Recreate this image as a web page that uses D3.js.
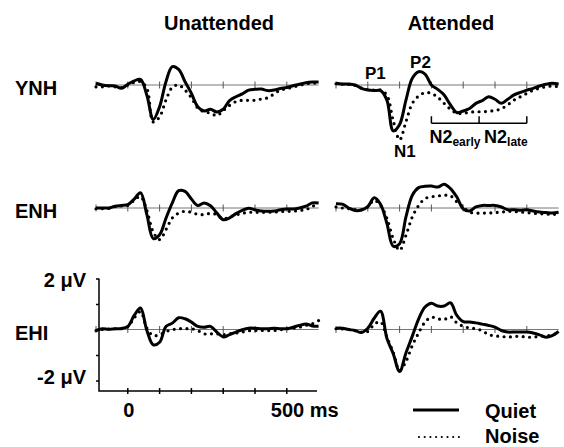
<!DOCTYPE html>
<html lang="en">
<head>
<meta charset="UTF-8">
<title>ERP waveforms</title>
<script src="https://d3js.org/d3.v7.min.js"></script>
<style>
    body {
        margin: 0;
        background: #fff;
    }
    svg text {
        font-family: "Liberation Sans", Arial, sans-serif;
        font-weight: bold;
        fill: #000;
    }
</style>
</head>
<body>
<div id="chart"></div>
<script>
    // time points (ms) of the averaged waveforms
    const times = [-100, -80, -60, -40, -20, 0, 20, 40, 60, 80, 100, 120, 140, 160, 180, 200, 220, 240,
        260, 280, 300, 320, 340, 360, 380, 400, 420, 440, 460, 480, 500, 520, 540, 560, 580, 600];

    // amplitudes in microvolts
    const ynhUnattQuiet = [0.07, 0, -0.03, -0.04, -0.13, 0.03, 0.16, 0.22, -0.4, -1.35, -0.85, 0.13, 0.72, 0.61, 0.13, -0.33, -0.85, -1.02,
        -0.95, -1.06, -0.95, -0.61, -0.46, -0.35, -0.2, -0.17, -0.16, -0.22, -0.2, -0.14, -0.1, -0.03, 0.03, 0.09, 0.12, 0.12];
    const ynhUnattNoise = [-0.07, -0.07, -0.04, -0.07, -0.1, 0, 0.1, 0.13, -0.13, -1.45, -1.25, -0.59, -0.09, 0, -0.2, -0.5, -0.9, -1.05,
        -1.1, -1.2, -1.0, -0.8, -0.65, -0.6, -0.6, -0.6, -0.55, -0.5, -0.35, -0.2, -0.15, -0.08, -0.02, 0.05, 0.07, 0.08];
    const ynhAttQuiet = [0.07, 0.04, 0.04, 0, -0.13, -0.2, -0.22, -0.22, -0.59, -1.8, -1.55, -0.59, 0.26, 0.52, 0.43, 0, -0.17, -0.39,
        -0.78, -1.08, -1.02, -0.92, -0.72, -0.61, -0.46, -0.56, -0.72, -0.56, -0.39, -0.29, -0.2, -0.13, -0.04, 0.03, 0.07, 0.04];
    const ynhAttNoise = [0.05, 0.03, 0.02, -0.02, -0.12, -0.18, -0.2, -0.2, -0.4, -1.4, -2.15, -1.44, -0.72, -0.43, -0.3, -0.33, -0.48, -0.72,
        -0.95, -1.11, -1.11, -1.07, -1.05, -1.05, -1.03, -1.0, -0.93, -0.78, -0.59, -0.46, -0.33, -0.2, -0.13, -0.07, -0.04, -0.07];
    const enhUnattQuiet = [0, 0, 0, 0.07, 0.1, 0.13, 0.35, 0.6, -0.26, -1.2, -1.05, -0.4, 0.2, 0.68, 0.65, 0.35, 0.1, 0.2,
        0.09, -0.2, -0.46, -0.39, -0.22, -0.09, -0.01, -0.07, -0.12, -0.13, -0.12, -0.07, -0.04, -0.04, 0, 0.07, 0.2, 0.2];
    const enhUnattNoise = [-0.03, -0.03, -0.02, 0.05, 0.08, 0.1, 0.3, 0.45, -0.1, -0.94, -1.24, -0.85, -0.39, -0.2, -0.13, -0.17, -0.25, -0.26,
        -0.21, -0.26, -0.43, -0.35, -0.27, -0.21, -0.17, -0.17, -0.17, -0.17, -0.16, -0.14, -0.13, -0.13, -0.09, -0.07, 0.07, 0.13];
    const enhAttQuiet = [0.17, 0.15, 0, -0.1, -0.08, 0.05, 0.4, 0.15, -0.6, -1.5, -1.4, -0.35, 0.5, 0.8, 0.85, 0.86, 0.82, 0.93,
        0.76, 0.43, -0.03, -0.12, 0.04, 0.1, 0.1, 0.1, 0.04, -0.07, -0.07, -0.09, -0.07, -0.12, -0.16, -0.18, -0.2, -0.17];
    const enhAttNoise = [0.04, 0, -0.03, -0.06, -0.07, 0.05, 0.3, 0.1, -0.4, -1.2, -1.66, -1.07, -0.35, 0.1, 0.37, 0.44, 0.47, 0.5,
        0.48, 0.24, 0.04, -0.16, -0.2, -0.2, -0.2, -0.18, -0.16, -0.13, -0.14, -0.16, -0.18, -0.21, -0.22, -0.24, -0.25, -0.24];
    const ehiUnattQuiet = [-0.04, 0.03, 0.01, 0.03, 0.04, 0.12, 0.55, 0.84, -0.04, -0.6, -0.5, 0.12, 0.25, 0.46, 0.42, 0.29, 0.12, 0.09,
        0.12, -0.1, -0.29, -0.2, -0.1, -0.01, 0.05, 0.05, 0.03, 0.03, 0.05, 0.03, 0.03, 0.09, 0.16, 0.22, 0.14, 0.13];
    const ehiUnattNoise = [-0.04, 0, 0.02, 0.03, 0.03, 0.1, 0.45, 0.7, 0.05, -0.24, -0.2, -0.08, -0.01, 0.03, 0.03, 0.03, -0.04, -0.17,
        -0.17, -0.17, -0.2, -0.17, -0.14, -0.1, -0.05, -0.04, -0.04, -0.04, -0.04, -0.01, 0.03, 0.05, 0.09, 0.16, 0.22, 0.35];
    const ehiAttQuiet = [0.05, 0.05, 0, -0.04, -0.12, 0.05, 0.44, 0.72, -0.34, -0.95, -1.65, -0.92, -0.26, 0.42, 0.88, 1.03, 0.92, 0.92,
        1.05, 0.55, 0.31, 0.29, 0.26, 0.21, 0.16, 0.09, -0.04, -0.1, -0.1, -0.1, -0.1, -0.14, -0.21, -0.3, -0.24, -0.08];
    const ehiAttNoise = [0.03, 0.02, 0, -0.05, -0.1, -0.08, 0.2, 0.3, -0.3, -0.9, -1.6, -1.25, -0.63, -0.13, 0.29, 0.48, 0.42, 0.39,
        0.5, 0.26, 0.13, 0.06, 0.03, -0.05, -0.2, -0.25, -0.27, -0.3, -0.27, -0.27, -0.3, -0.3, -0.27, -0.24, -0.22, -0.1];

    const groups = ["YNH", "ENH", "EHI"];
    const conditions = ["Unattended", "Attended"];
    const legendLabels = ["Quiet", "Noise"];
    const baselineTicks = [-100, 0, 100, 200, 300, 400, 500];
    const voltTicks = [-2, -1, 0, 1, 2];
    const timeTicks = [0, 100, 200, 300, 400, 500];
    const timeLabels = ["0", "500 ms"];
    const voltLabels = ["2 μV", "-2 μV"];

    // component windows / labels (attended YNH panel)
    const n2Windows = [200, 350, 500];
    const peakNames = ["P1", "P2", "N1"];
    const peakTimes = [-9, 133, 82];
    const peakVolts = [0.22, 0.65, -2.82];

    const series = [
        [[ynhUnattQuiet, ynhUnattNoise], [ynhAttQuiet, ynhAttNoise]],
        [[enhUnattQuiet, enhUnattNoise], [enhAttQuiet, enhAttNoise]],
        [[ehiUnattQuiet, ehiUnattNoise], [ehiAttQuiet, ehiAttNoise]]
    ];

    const width = 564, height = 447;
    const rowBase = [85, 208, 329.5];
    const uvPx = 25.5;

    const svg = d3.select('#chart').append('svg')
        .attr('width', width)
        .attr('height', height);

    const xScales = [
        d3.scaleLinear().domain([-100, 600]).range([96, 318.6]),
        d3.scaleLinear().domain([-100, 600]).range([336, 558.6])
    ];
    const yScale = r => d3.scaleLinear().domain([-2, 2]).range([rowBase[r] + 2 * uvPx, rowBase[r] - 2 * uvPx]);

    // column titles
    svg.selectAll('.title')
        .data(conditions)
        .enter().append('text')
        .attr('x', (d, i) => i === 0 ? 219 : 451)
        .attr('y', 30)
        .attr('text-anchor', 'middle')
        .style('font-size', '20px')
        .text(d => d);

    // row labels
    svg.selectAll('.rowlabel')
        .data(groups)
        .enter().append('text')
        .attr('x', 15)
        .attr('y', (d, i) => rowBase[i] + 10)
        .style('font-size', '20px')
        .text(d => d);

    groups.forEach((g, r) => {
        const y = yScale(r);
        conditions.forEach((c, ci) => {
            const x = xScales[ci];
            const panel = svg.append('g');

            // zero line with 100 ms ticks
            panel.append('line')
                .attr('x1', x(-100)).attr('x2', x(600))
                .attr('y1', y(0)).attr('y2', y(0))
                .attr('stroke', '#777').attr('stroke-width', 1);
            panel.selectAll('.bt')
                .data(baselineTicks)
                .enter().append('line')
                .attr('x1', d => x(d)).attr('x2', d => x(d))
                .attr('y1', y(0) - 3.5).attr('y2', y(0) + 3.5)
                .attr('stroke', '#555').attr('stroke-width', 1);

            const line = d3.line()
                .x((d, i) => x(times[i]))
                .y(d => y(d))
                .curve(d3.curveCatmullRom.alpha(0.5));

            // noise (dotted) underneath, quiet (solid) on top
            panel.append('path')
                .attr('d', line(series[r][ci][1]))
                .attr('fill', 'none')
                .attr('stroke', '#000')
                .attr('stroke-width', 3.2)
                .attr('stroke-linecap', 'round')
                .attr('stroke-dasharray', '0 6.4');
            panel.append('path')
                .attr('d', line(series[r][ci][0]))
                .attr('fill', 'none')
                .attr('stroke', '#000')
                .attr('stroke-width', 3)
                .attr('stroke-linejoin', 'round');
        });
    });

    // component labels on the attended YNH panel
    const xa = xScales[1], ya = yScale(0);
    svg.selectAll('.peak')
        .data(peakNames)
        .enter().append('text')
        .attr('x', (d, i) => xa(peakTimes[i]))
        .attr('y', (d, i) => ya(peakVolts[i]))
        .style('font-size', '17px')
        .text(d => d);

    // N2 early / late brackets
    const by = ya(-1.5);
    svg.append('line')
        .attr('x1', xa(n2Windows[0])).attr('x2', xa(n2Windows[2]))
        .attr('y1', by).attr('y2', by)
        .attr('stroke', '#000').attr('stroke-width', 1.5);
    svg.selectAll('.brk')
        .data(n2Windows)
        .enter().append('line')
        .attr('x1', d => xa(d)).attr('x2', d => xa(d))
        .attr('y1', by - 7).attr('y2', by)
        .attr('stroke', '#000').attr('stroke-width', 1.5);
    ['early', 'late'].forEach((sub, i) => {
        const t = svg.append('text')
            .attr('x', xa(n2Windows[i]) + (i === 0 ? -2 : 5))
            .attr('y', ya(-2.29))
            .style('font-size', '18px');
        t.append('tspan').text('N2');
        t.append('tspan').attr('dy', 3).style('font-size', '12px').text(sub);
    });

    // voltage / time calibration axes (bottom left)
    const yb = yScale(2), xb = xScales[0];
    const axisX = 99, axisY = 391;
    svg.append('path')
        .attr('d', `M${axisX},${yb(2)}V${axisY}H${xb(595)}`)
        .attr('fill', 'none')
        .attr('stroke', '#000')
        .attr('stroke-width', 1.5);
    svg.append('g')
        .attr('transform', `translate(${axisX},0)`)
        .call(d3.axisLeft(yb).tickValues(voltTicks).tickSize(3).tickSizeOuter(0).tickFormat(''))
        .call(g => g.select('.domain').remove())
        .selectAll('line').attr('stroke-width', 1.5);
    svg.selectAll('.xt')
        .data(timeTicks)
        .enter().append('line')
        .attr('x1', d => xb(d)).attr('x2', d => xb(d))
        .attr('y1', axisY - 3).attr('y2', axisY + 3)
        .attr('stroke', '#000').attr('stroke-width', 1.5);

    svg.append('text')
        .attr('x', xb(0) + 1).attr('y', 417)
        .attr('text-anchor', 'middle')
        .style('font-size', '20px')
        .text(timeLabels[0]);
    svg.append('text')
        .attr('x', xb(500) - 16).attr('y', 417)
        .style('font-size', '20px')
        .text(timeLabels[1]);

    svg.append('text')
        .attr('x', 86).attr('y', yb(2) + 8)
        .attr('text-anchor', 'end')
        .style('font-size', '20px')
        .text(voltLabels[0]);
    svg.append('text')
        .attr('x', 86).attr('y', yb(-2) + 3)
        .attr('text-anchor', 'end')
        .style('font-size', '20px')
        .text(voltLabels[1]);

    // legend
    const legend = svg.append('g');
    legend.append('line')
        .attr('x1', 413).attr('x2', 459).attr('y1', 410).attr('y2', 410)
        .attr('stroke', '#000').attr('stroke-width', 3);
    legend.append('line')
        .attr('x1', 419).attr('x2', 459).attr('y1', 437).attr('y2', 437)
        .attr('stroke', '#000').attr('stroke-width', 2.2)
        .attr('stroke-linecap', 'round')
        .attr('stroke-dasharray', '0 5.7');
    legend.selectAll('.lt')
        .data(legendLabels)
        .enter().append('text')
        .attr('x', 485)
        .attr('y', (d, i) => i === 0 ? 418 : 443)
        .style('font-size', '20px')
        .text(d => d);
</script>
</body>
</html>
